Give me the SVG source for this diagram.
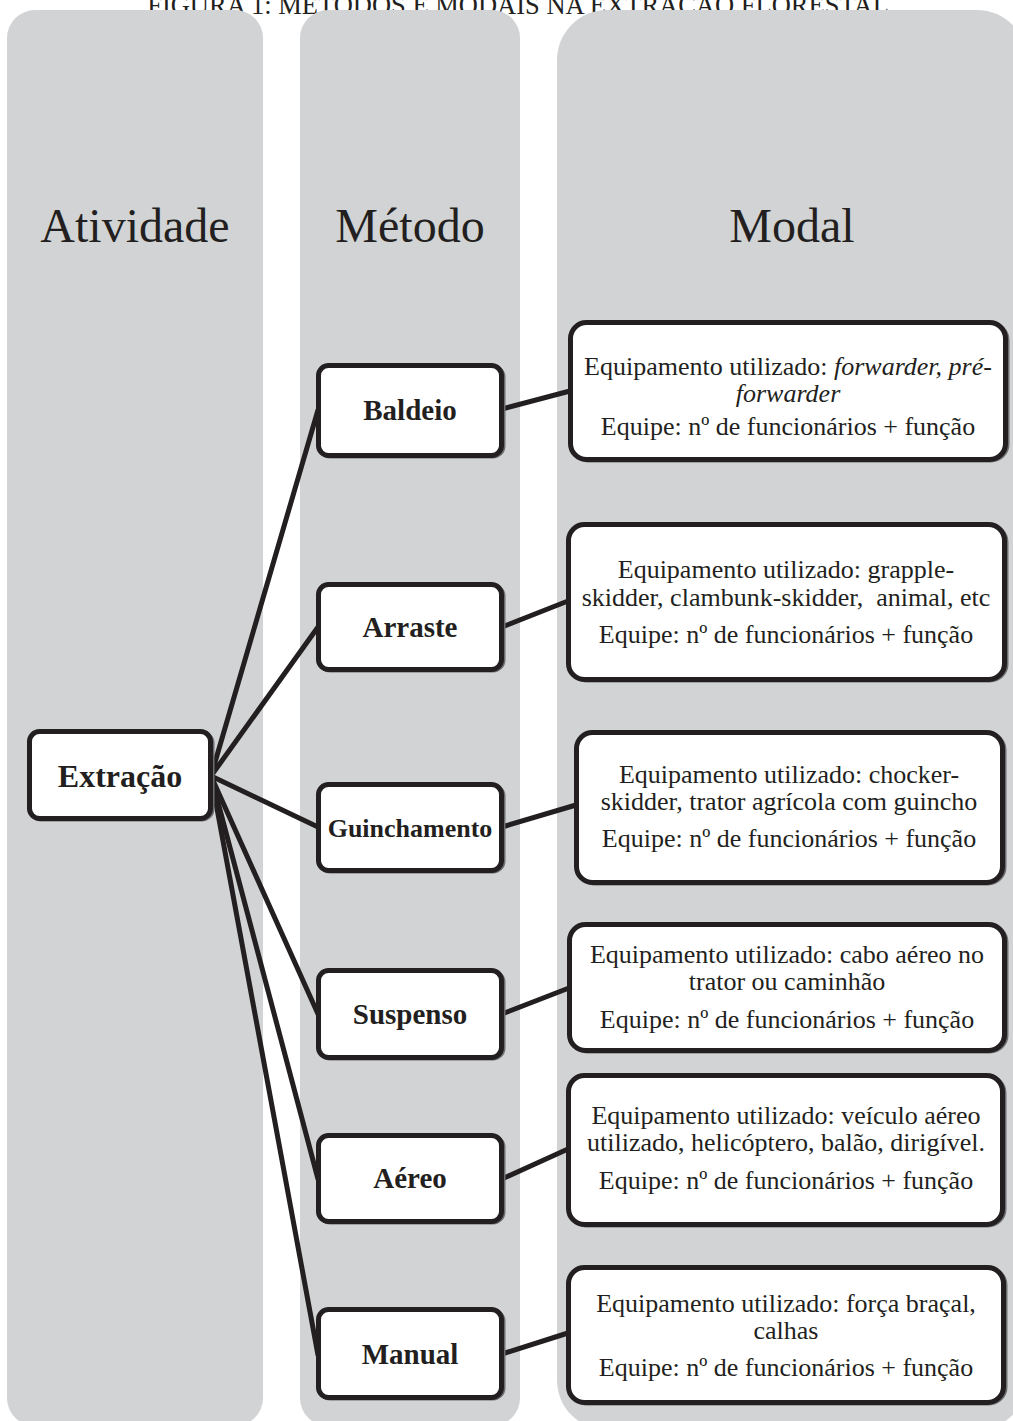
<svg xmlns="http://www.w3.org/2000/svg" width="1013" height="1421" viewBox="0 0 1013 1421">
<style>
.col{fill:#d1d3d4}
.box{fill:#fff;stroke:#231f20;stroke-width:5}
.shadow{fill:none;stroke:#6d6e71;stroke-width:5}
.hdr{font-family:"Liberation Serif","Times New Roman",serif;font-size:48px;fill:#231f20;text-anchor:middle}
.meth{font-family:"Liberation Serif","Times New Roman",serif;font-size:29px;font-weight:bold;fill:#231f20;text-anchor:middle}
.mod{font-family:"Liberation Serif","Times New Roman",serif;font-size:26px;fill:#231f20;text-anchor:middle}
.it{font-style:italic}
.title{font-family:"Liberation Serif","Times New Roman",serif;font-size:26.5px;fill:#231f20;text-anchor:middle}
.conn{stroke:#231f20;stroke-width:5;fill:none;stroke-linecap:round}
</style>
<rect width="1013" height="1421" fill="#fff"/>
<text class="title" x="518" y="14">FIGURA 1: MÉTODOS E MODAIS NA EXTRAÇÃO FLORESTAL</text>

<g id="col-atividade">
<rect class="col" x="7" y="10" width="256" height="1416" rx="28" ry="28"/>
<text class="hdr" x="135" y="242">Atividade</text>
</g>
<g id="col-metodo">
<rect class="col" x="300" y="10" width="220" height="1416" rx="28" ry="28"/>
<text class="hdr" x="410" y="242">Método</text>
</g>
<g id="col-modal">
<rect class="col" x="557" y="10" width="470" height="1420" rx="50" ry="50"/>
<text class="hdr" x="792" y="242">Modal</text>
</g>

<g id="connectors">
<line class="conn" x1="211" y1="776" x2="318" y2="410"/>
<line class="conn" x1="211" y1="776" x2="318" y2="627"/>
<line class="conn" x1="211" y1="776" x2="318" y2="827"/>
<line class="conn" x1="211" y1="776" x2="318" y2="1014"/>
<line class="conn" x1="211" y1="776" x2="318" y2="1179"/>
<line class="conn" x1="211" y1="776" x2="318" y2="1355"/>
<line class="conn" x1="502" y1="409" x2="570" y2="391"/>
<line class="conn" x1="502" y1="627" x2="568" y2="601"/>
<line class="conn" x1="502" y1="827" x2="576" y2="805"/>
<line class="conn" x1="502" y1="1014" x2="569" y2="988"/>
<line class="conn" x1="502" y1="1179" x2="568" y2="1149"/>
<line class="conn" x1="502" y1="1354" x2="568" y2="1333"/>
</g>

<g id="node-extracao">
<rect class="shadow" x="31" y="733" width="181" height="86" rx="10"/>
<rect class="box" x="29.5" y="731.5" width="181" height="87" rx="10"/>
<text class="meth" x="120" y="787" style="font-size:32px">Extração</text>
</g>

<g id="node-baldeio">
<rect class="shadow" x="320" y="367" width="183" height="89" rx="10"/>
<rect class="box" x="318.5" y="365.5" width="183" height="90" rx="10"/>
<text class="meth" x="410" y="420">Baldeio</text>
</g>
<g id="node-arraste">
<rect class="shadow" x="320" y="586" width="183" height="84" rx="10"/>
<rect class="box" x="318.5" y="584.5" width="183" height="85" rx="10"/>
<text class="meth" x="410" y="637">Arraste</text>
</g>
<g id="node-guinchamento">
<rect class="shadow" x="320" y="786" width="183" height="85" rx="10"/>
<rect class="box" x="318.5" y="784.5" width="183" height="86" rx="10"/>
<text class="meth" x="410" y="837" style="font-size:26px">Guinchamento</text>
</g>
<g id="node-suspenso">
<rect class="shadow" x="320" y="972" width="183" height="86" rx="10"/>
<rect class="box" x="318.5" y="970.5" width="183" height="87" rx="10"/>
<text class="meth" x="410" y="1024">Suspenso</text>
</g>
<g id="node-aereo">
<rect class="shadow" x="320" y="1137" width="183" height="85" rx="10"/>
<rect class="box" x="318.5" y="1135.5" width="183" height="86" rx="10"/>
<text class="meth" x="410" y="1188">Aéreo</text>
</g>
<g id="node-manual">
<rect class="shadow" x="320" y="1311" width="183" height="87" rx="10"/>
<rect class="box" x="318.5" y="1309.5" width="183" height="88" rx="10"/>
<text class="meth" x="410" y="1364">Manual</text>
</g>

<g id="modal-baldeio">
<rect class="shadow" x="572" y="324" width="435" height="136" rx="16"/>
<rect class="box" x="570.5" y="322.5" width="435" height="137" rx="16"/>
<text class="mod" x="788" y="375">Equipamento utilizado: <tspan class="it">forwarder, pré-</tspan></text>
<text class="mod it" x="788" y="402">forwarder</text>
<text class="mod" x="788" y="435">Equipe: nº de funcionários + função</text>
</g>
<g id="modal-arraste">
<rect class="shadow" x="570" y="526" width="436" height="154" rx="16"/>
<rect class="box" x="568.5" y="524.5" width="436" height="155" rx="16"/>
<text class="mod" x="786" y="578">Equipamento utilizado: grapple-</text>
<text class="mod" x="786" y="606" xml:space="preserve">skidder, clambunk-skidder,  animal, etc</text>
<text class="mod" x="786" y="643">Equipe: nº de funcionários + função</text>
</g>
<g id="modal-guinchamento">
<rect class="shadow" x="578" y="734" width="426" height="149" rx="16"/>
<rect class="box" x="576.5" y="732.5" width="426" height="150" rx="16"/>
<text class="mod" x="789" y="783">Equipamento utilizado: chocker-</text>
<text class="mod" x="789" y="810">skidder, trator agrícola com guincho</text>
<text class="mod" x="789" y="847">Equipe: nº de funcionários + função</text>
</g>
<g id="modal-suspenso">
<rect class="shadow" x="571" y="926" width="435" height="125" rx="16"/>
<rect class="box" x="569.5" y="924.5" width="435" height="126" rx="16"/>
<text class="mod" x="787" y="963">Equipamento utilizado: cabo aéreo no</text>
<text class="mod" x="787" y="990">trator ou caminhão</text>
<text class="mod" x="787" y="1028">Equipe: nº de funcionários + função</text>
</g>
<g id="modal-aereo">
<rect class="shadow" x="570" y="1077" width="434" height="148" rx="16"/>
<rect class="box" x="568.5" y="1075.5" width="434" height="149" rx="16"/>
<text class="mod" x="786" y="1124">Equipamento utilizado: veículo aéreo</text>
<text class="mod" x="786" y="1151">utilizado, helicóptero, balão, dirigível.</text>
<text class="mod" x="786" y="1189">Equipe: nº de funcionários + função</text>
</g>
<g id="modal-manual">
<rect class="shadow" x="570" y="1269" width="435" height="134" rx="16"/>
<rect class="box" x="568.5" y="1267.5" width="435" height="135" rx="16"/>
<text class="mod" x="786" y="1312">Equipamento utilizado: força braçal,</text>
<text class="mod" x="786" y="1339">calhas</text>
<text class="mod" x="786" y="1376">Equipe: nº de funcionários + função</text>
</g>
</svg>
